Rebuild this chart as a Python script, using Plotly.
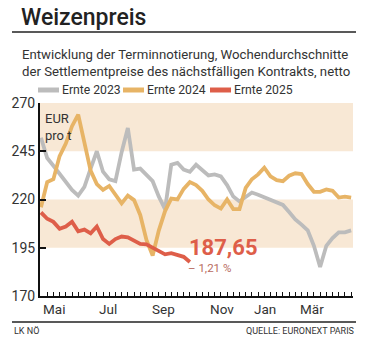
import plotly.graph_objects as go

# ---- data (EUR pro t, weekly averages) ----
weeks_23 = list(range(51))
ernte_2023 = [252, 241.5, 237.5, 233.5, 229, 225, 222, 226.5, 236, 245,
              234.4, 230.5, 229.5, 244.5, 257, 235.5, 236, 232.5, 229.5, 221.5,
              215, 238, 239, 235.5, 234.4, 238, 235, 232.5, 233, 232,
              227.5, 221.5, 219, 221.5, 223.6, 222.5, 221.3, 219.7, 218.5, 217.2,
              213.5, 209.7, 207, 204, 196, 185, 196, 200, 203, 203, 204]
weeks_24 = list(range(51))
ernte_2024 = [216, 229, 230.5, 242.5, 249, 258, 264, 249.5, 235, 228,
              225, 227, 222.3, 218, 222, 219.7, 212, 199, 191, 204,
              214, 220.5, 220, 225.5, 229, 227.5, 224.5, 220, 217, 215.3,
              220, 215, 215, 226, 230.5, 233, 236.5, 232, 230, 229.5,
              232.3, 233.6, 233.2, 228, 224, 224, 225.2, 224.5, 221, 221.5, 221]
weeks_25 = list(range(25))
ernte_2025 = [213.3, 210, 208.4, 204.8, 206, 208.5, 203.5, 204.4, 202.5, 206,
              199.5, 197, 199.5, 200.8, 200.4, 198.7, 197, 196.8, 195, 193,
              191.6, 192.2, 191.5, 190.3, 187.65]

week_ticks = list(range(51))
month_pos = [2.1, 10.8, 19.8, 29.2, 36.1, 43.7]
month_labels = ["Mai", "Jul", "Sep", "Nov", "Jan", "Mär"]
y_ticks = [170, 195, 220, 245, 270]
bands = [(195, 220), (245, 270)]
series_names = ["Ernte 2023", "Ernte 2024", "Ernte 2025"]
last_value = "187,65"
last_change = "– 1,21 %"

# ---- style ----
C_GRAY = "#bcbcbc"
C_ORANGE = "#e7b466"
C_RED = "#de5e49"
C_BAND = "#f8e8d5"
TXT = "#333333"
FONT = "Roboto"

W, H = 369, 340
L, R, T, B = 40, 353, 103, 296


def px(x):
    return (x - L) / (R - L)


def py(y):
    return (B - y) / (B - T)


fig = go.Figure()
for xs, ys, c, n in [(weeks_23, ernte_2023, C_GRAY, series_names[0]),
                     (weeks_24, ernte_2024, C_ORANGE, series_names[1]),
                     (weeks_25, ernte_2025, C_RED, series_names[2])]:
    fig.add_trace(go.Scatter(x=xs, y=ys, mode="lines", name=n,
                             line=dict(color=c, width=3.8), showlegend=False))

shapes = []
for lo, hi in bands:
    shapes.append(dict(type="rect", xref="paper", yref="y", x0=0, x1=1, y0=lo, y1=hi,
                       fillcolor=C_BAND, line=dict(width=0), layer="below"))
# header / footer rules
shapes.append(dict(type="line", xref="paper", yref="paper", x0=px(12), x1=px(356),
                   y0=py(32), y1=py(32), line=dict(color="#222", width=1.5)))
shapes.append(dict(type="line", xref="paper", yref="paper", x0=px(12), x1=px(356),
                   y0=py(322), y1=py(322), line=dict(color="#222", width=1.5)))

annotations = []
# legend
leg = [(38, C_GRAY, series_names[0]), (123, C_ORANGE, series_names[1]), (210, C_RED, series_names[2])]
for x0, c, n in leg:
    shapes.append(dict(type="line", xref="paper", yref="paper", x0=px(x0), x1=px(x0 + 21),
                       y0=py(90), y1=py(90), line=dict(color=c, width=5)))
    annotations.append(dict(xref="paper", yref="paper", x=px(x0 + 21.5), y=py(90), text=n,
                            showarrow=False, xanchor="left", yanchor="middle",
                            font=dict(family=FONT, size=12.2, color=TXT)))

# month labels under the axis
for pos, lab in zip(month_pos, month_labels):
    annotations.append(dict(xref="x", yref="paper", x=pos, y=py(309), text=lab, showarrow=False,
                            xanchor="center", yanchor="middle",
                            font=dict(family=FONT, size=13.5, color=TXT)))

annotations += [
    dict(xref="paper", yref="paper", x=px(19), y=py(17), text="Weizenpreis", showarrow=False,
         xanchor="left", yanchor="middle", font=dict(family=FONT, size=23, color="#222", weight=500)),
    dict(xref="paper", yref="paper", x=px(20), y=py(54), text="Entwicklung der Terminnotierung, Wochendurchschnitte",
         showarrow=False, xanchor="left", yanchor="middle", font=dict(family=FONT, size=13.2, color=TXT)),
    dict(xref="paper", yref="paper", x=px(20), y=py(71), text="der Settlementpreise des nächstfälligen Kontrakts, netto",
         showarrow=False, xanchor="left", yanchor="middle", font=dict(family=FONT, size=13.2, color=TXT)),
    dict(xref="paper", yref="paper", x=px(43), y=py(109), text="EUR<br>pro t", showarrow=False,
         xanchor="left", yanchor="top", align="left", font=dict(family=FONT, size=13, color=TXT)),
    dict(xref="paper", yref="paper", x=px(187), y=py(247), text="<b>" + last_value + "</b>", showarrow=False,
         xanchor="left", yanchor="middle", font=dict(family=FONT, size=22, color=C_RED)),
    dict(xref="paper", yref="paper", x=px(186), y=py(268), text=last_change, showarrow=False,
         xanchor="left", yanchor="middle", font=dict(family=FONT, size=11.5, color="#b86a60")),
    dict(xref="paper", yref="paper", x=px(12), y=py(331), text="LK NÖ", showarrow=False,
         xanchor="left", yanchor="middle", font=dict(family=FONT, size=9, color=TXT)),
    dict(xref="paper", yref="paper", x=px(356), y=py(331), text="QUELLE: EURONEXT PARIS", showarrow=False,
         xanchor="right", yanchor="middle", font=dict(family=FONT, size=9, color=TXT)),
]

fig.update_layout(
    width=W, height=H,
    margin=dict(l=L, r=W - R, t=T, b=H - B),
    paper_bgcolor="white", plot_bgcolor="white",
    shapes=shapes, annotations=annotations,
    xaxis=dict(range=[-0.16, 50.3], tickmode="array", tickvals=week_ticks,
               ticktext=[""] * len(week_ticks), ticks="inside", ticklen=4, tickcolor="#111", tickwidth=1,
               showgrid=False, zeroline=False, showline=True, linecolor="#111", linewidth=2),
    yaxis=dict(range=[170, 270], tickmode="array", tickvals=y_ticks, ticks="inside", ticklen=6,
               tickcolor="#111", tickwidth=1.5, showgrid=False, zeroline=False, showline=True,
               linecolor="#111", linewidth=2, tickfont=dict(family=FONT, size=14, color=TXT)),
)

fig.write_html("out.html")
